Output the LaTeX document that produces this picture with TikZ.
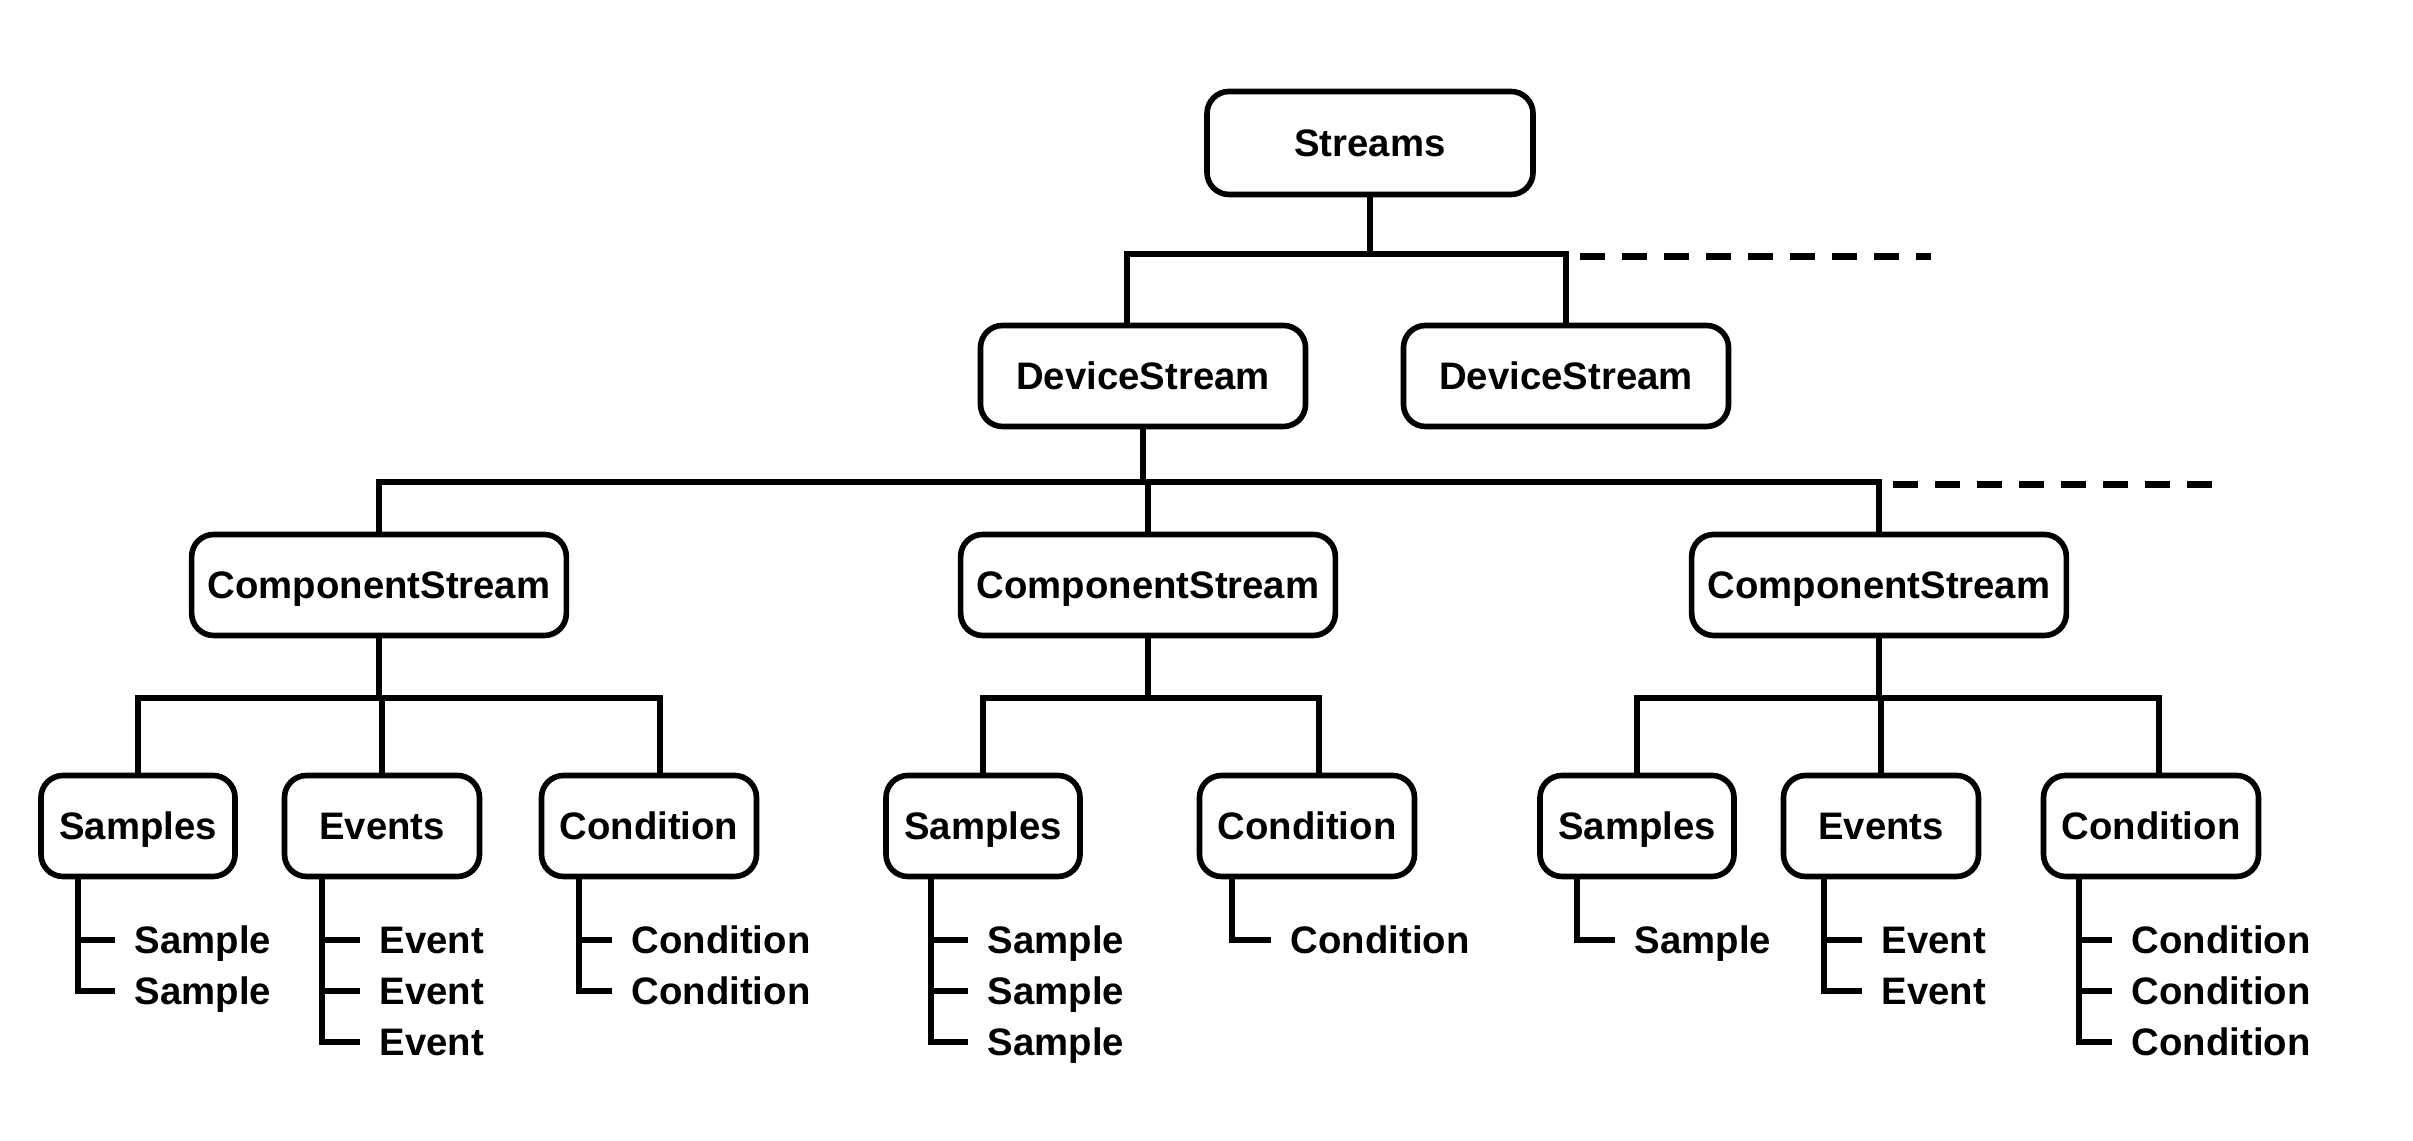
\documentclass[tikz,border=0pt]{standalone}
\usepackage{fontspec}
\setmainfont{Liberation Sans}
\begin{document}
\begin{tikzpicture}[
	stbox/.style={draw, line width=1.6pt, rounded corners=2.2mm, minimum height=1.01cm, inner xsep=1.6mm, text height=7.8pt, text depth=0pt, font=\fontsize{10.9}{13}\selectfont\bfseries},
	leaf/.style={anchor=west, inner sep=0pt, text height=7.8pt, text depth=0pt, font=\fontsize{10.9}{13}\selectfont\bfseries},
	con/.style={line width=1.8pt},
	more/.style={line width=2pt, dash pattern=on 2.5mm off 1.7mm}]
		\useasboundingbox (0,0) rectangle (24.13,11.41);
		
		%Raiz
		\node[stbox, minimum width=3.26cm, minimum height=1.03cm] (str) at (13.70,9.98) {Streams};
		\node[stbox, minimum width=3.25cm] (ds1) at (11.43,7.65) {DeviceStream};
		\node[stbox, minimum width=3.25cm] (ds2) at (15.66,7.65) {DeviceStream};
		
		%Componentes
		\node[stbox, minimum width=3.74cm] (cs1) at (3.79,5.56) {ComponentStream};
		\node[stbox, minimum width=3.74cm] (cs2) at (11.48,5.56) {ComponentStream};
		\node[stbox, minimum width=3.74cm] (cs3) at (18.79,5.56) {ComponentStream};
		
		%Categorias
		\node[stbox, minimum width=1.94cm] (sam1) at (1.38,3.15) {Samples};
		\node[stbox, minimum width=1.95cm] (ev1) at (3.82,3.15) {Events};
		\node[stbox, minimum width=2.15cm] (con1) at (6.49,3.15) {Condition};
		\node[stbox, minimum width=1.94cm] (sam2) at (9.83,3.15) {Samples};
		\node[stbox, minimum width=2.15cm] (con2) at (13.07,3.15) {Condition};
		\node[stbox, minimum width=1.94cm] (sam3) at (16.37,3.15) {Samples};
		\node[stbox, minimum width=1.95cm] (ev3) at (18.81,3.15) {Events};
		\node[stbox, minimum width=2.15cm] (con3) at (21.51,3.15) {Condition};
		
		%Hojas
		\node[leaf] (s1a) at (1.34,2.01) {Sample};
		\node[leaf] (s1b) at (1.34,1.50) {Sample};
		\node[leaf] (e1a) at (3.79,2.01) {Event};
		\node[leaf] (e1b) at (3.79,1.50) {Event};
		\node[leaf] (e1c) at (3.79,0.99) {Event};
		\node[leaf] (c1a) at (6.31,2.01) {Condition};
		\node[leaf] (c1b) at (6.31,1.50) {Condition};
		\node[leaf] (s2a) at (9.87,2.01) {Sample};
		\node[leaf] (s2b) at (9.87,1.50) {Sample};
		\node[leaf] (s2c) at (9.87,0.99) {Sample};
		\node[leaf] (c2a) at (12.90,2.01) {Condition};
		\node[leaf] (s3a) at (16.34,2.01) {Sample};
		\node[leaf] (e3a) at (18.81,2.01) {Event};
		\node[leaf] (e3b) at (18.81,1.50) {Event};
		\node[leaf] (c3a) at (21.31,2.01) {Condition};
		\node[leaf] (c3b) at (21.31,1.50) {Condition};
		\node[leaf] (c3c) at (21.31,0.99) {Condition};
		
		\coordinate (tend) at (19.31,8.84);
		\coordinate (bend) at (22.21,6.56);
		
		%Nivel 1
		\draw[con] (str.south) |- ([xshift=-1.6mm, yshift=6.9mm]ds1.north) -- ([xshift=-1.6mm]ds1.north);
		\draw[con] (str.south) |- ([yshift=6.9mm]ds2.north) -- (ds2.north);
		\draw[more] ([xshift=1.4mm]ds2.north |- tend) -- (tend);
		
		%Nivel 2
		\draw[con] (ds1.south) |- ([yshift=5mm]cs1.north) -- (cs1.north);
		\draw[con] (ds1.south) |- ([yshift=5mm]cs2.north) -- (cs2.north);
		\draw[con] (ds1.south) |- ([yshift=5mm]cs3.north) -- (cs3.north);
		\draw[more] ([xshift=1.4mm]cs3.north |- bend) -- (bend);
		
		%Nivel 3
		\draw[con] (cs1.south) |- ([yshift=7.5mm]sam1.north) -- (sam1.north);
		\draw[con] (cs1.south) |- ([yshift=7.5mm]ev1.north) -- (ev1.north);
		\draw[con] (cs1.south) |- ([xshift=1.1mm, yshift=7.5mm]con1.north) -- ([xshift=1.1mm]con1.north);
		\draw[con] (cs2.south) |- ([yshift=7.5mm]sam2.north) -- (sam2.north);
		\draw[con] (cs2.south) |- ([xshift=1.2mm, yshift=7.5mm]con2.north) -- ([xshift=1.2mm]con2.north);
		\draw[con] (cs3.south) |- ([yshift=7.5mm]sam3.north) -- (sam3.north);
		\draw[con] (cs3.south) |- ([yshift=7.5mm]ev3.north) -- (ev3.north);
		\draw[con] (cs3.south) |- ([xshift=0.8mm, yshift=7.5mm]con3.north) -- ([xshift=0.8mm]con3.north);
		
		%Ramas
		\draw[con] ([xshift=4mm]sam1.south west) |- ([xshift=-1.9mm]s1a.west);
		\draw[con] ([xshift=4mm]sam1.south west) |- ([xshift=-1.9mm]s1b.west);
		\draw[con] ([xshift=4mm]ev1.south west) |- ([xshift=-1.9mm]e1a.west);
		\draw[con] ([xshift=4mm]ev1.south west) |- ([xshift=-1.9mm]e1b.west);
		\draw[con] ([xshift=4mm]ev1.south west) |- ([xshift=-1.9mm]e1c.west);
		\draw[con] ([xshift=4mm]con1.south west) |- ([xshift=-1.9mm]c1a.west);
		\draw[con] ([xshift=4mm]con1.south west) |- ([xshift=-1.9mm]c1b.west);
		\draw[con] ([xshift=4.8mm]sam2.south west) |- ([xshift=-1.9mm]s2a.west);
		\draw[con] ([xshift=4.8mm]sam2.south west) |- ([xshift=-1.9mm]s2b.west);
		\draw[con] ([xshift=4.8mm]sam2.south west) |- ([xshift=-1.9mm]s2c.west);
		\draw[con] ([xshift=3.5mm]con2.south west) |- ([xshift=-1.9mm]c2a.west);
		\draw[con] ([xshift=4mm]sam3.south west) |- ([xshift=-1.9mm]s3a.west);
		\draw[con] ([xshift=4.3mm]ev3.south west) |- ([xshift=-1.9mm]e3a.west);
		\draw[con] ([xshift=4.3mm]ev3.south west) |- ([xshift=-1.9mm]e3b.west);
		\draw[con] ([xshift=3.8mm]con3.south west) |- ([xshift=-1.9mm]c3a.west);
		\draw[con] ([xshift=3.8mm]con3.south west) |- ([xshift=-1.9mm]c3b.west);
		\draw[con] ([xshift=3.8mm]con3.south west) |- ([xshift=-1.9mm]c3c.west);
	\end{tikzpicture}
\end{document}
